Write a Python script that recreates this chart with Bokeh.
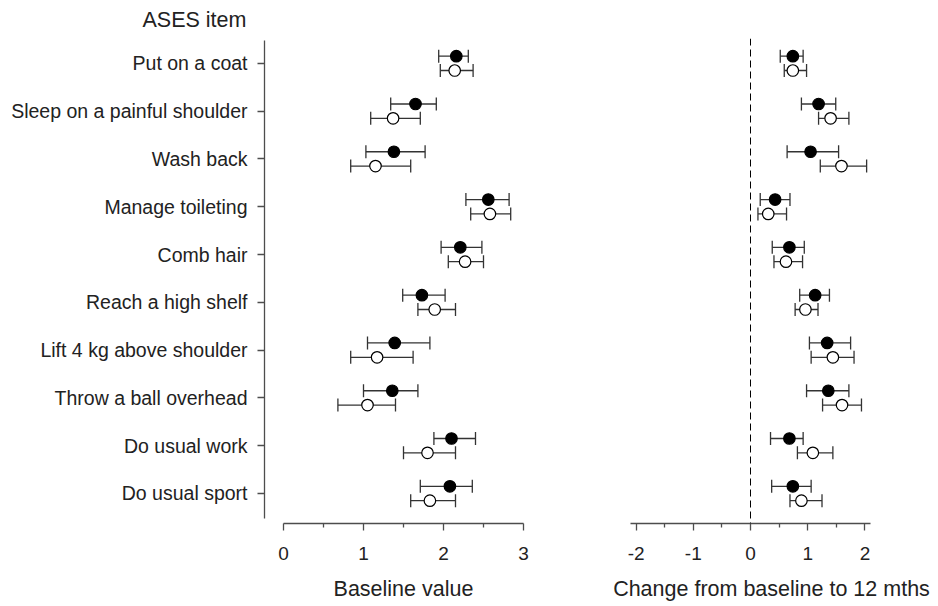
import numpy as np
from bokeh.plotting import figure
from bokeh.layouts import row
from bokeh.models import FixedTicker, Range1d, Span, Title
from bokeh.embed import file_html
from bokeh.resources import INLINE

items = ["Put on a coat", "Sleep on a painful shoulder", "Wash back",
         "Manage toileting", "Comb hair", "Reach a high shelf",
         "Lift 4 kg above shoulder", "Throw a ball overhead",
         "Do usual work", "Do usual sport"]

base_filled = [2.16, 1.65, 1.38, 2.56, 2.21, 1.73, 1.39, 1.36, 2.10, 2.08]
base_filled_lo = [1.94, 1.34, 1.03, 2.28, 1.97, 1.49, 1.05, 1.00, 1.88, 1.71]
base_filled_hi = [2.31, 1.91, 1.77, 2.82, 2.48, 2.02, 1.83, 1.68, 2.40, 2.36]
base_open = [2.14, 1.37, 1.15, 2.58, 2.27, 1.89, 1.17, 1.05, 1.80, 1.83]
base_open_lo = [1.96, 1.09, 0.84, 2.34, 2.06, 1.68, 0.84, 0.68, 1.50, 1.59]
base_open_hi = [2.37, 1.71, 1.59, 2.84, 2.50, 2.15, 1.62, 1.40, 2.15, 2.15]

chg_filled = [0.74, 1.19, 1.05, 0.43, 0.68, 1.13, 1.34, 1.36, 0.68, 0.74]
chg_filled_lo = [0.52, 0.89, 0.64, 0.17, 0.38, 0.86, 1.03, 0.98, 0.35, 0.37]
chg_filled_hi = [0.92, 1.49, 1.54, 0.69, 0.94, 1.38, 1.75, 1.72, 0.92, 1.06]
chg_open = [0.74, 1.40, 1.59, 0.31, 0.62, 0.96, 1.44, 1.60, 1.09, 0.89]
chg_open_lo = [0.59, 1.19, 1.22, 0.13, 0.41, 0.78, 1.06, 1.26, 0.82, 0.69]
chg_open_hi = [0.98, 1.72, 2.03, 0.63, 0.91, 1.18, 1.81, 1.94, 1.44, 1.25]

base_ticks = [0, 1, 2, 3]
base_minor = [0.5, 1.5, 2.5]
chg_ticks = [-2, -1, 0, 1, 2]
chg_tick_labels = ["-2", "-1", "0", "1", "2"]
chg_minor = [-1.5, -0.5, 0.5, 1.5]

n = len(items)
ypos = np.arange(n, 0, -1).astype(float)
dy = 0.15
y_f = ypos + dy
y_o = ypos - dy

FONT = "Liberation Sans"
TXT = "#222222"
AX = "#4d4d4d"
BAR = "#333333"

y_range = Range1d(0.372, 10.52)


def style_axis_x(ax, ticks, minor, bounds):
    ax.ticker = FixedTicker(ticks=ticks, minor_ticks=minor)
    ax.bounds = bounds
    ax.axis_line_color = AX
    ax.axis_line_width = 1.3
    ax.major_tick_line_color = AX
    ax.minor_tick_line_color = AX
    ax.major_tick_line_width = 1.3
    ax.minor_tick_line_width = 1.3
    ax.major_tick_out = 7
    ax.major_tick_in = 0
    ax.minor_tick_out = 4
    ax.minor_tick_in = 0
    ax.major_label_text_font = FONT
    ax.major_label_text_font_size = "19px"
    ax.major_label_text_color = TXT
    ax.major_label_standoff = 16
    ax.axis_label_text_font = FONT
    ax.axis_label_text_font_size = "21.5px"
    ax.axis_label_text_font_style = "normal"
    ax.axis_label_text_color = TXT
    ax.axis_label_standoff = 14


def draw(p, x, lo, hi, y, fill):
    p.segment(x0=lo, y0=y, x1=hi, y1=y, line_color=BAR, line_width=1.3)
    p.scatter(x=lo, y=y, marker="dash", angle=np.pi / 2, size=13,
              line_color=BAR, line_width=1.3)
    p.scatter(x=hi, y=y, marker="dash", angle=np.pi / 2, size=13,
              line_color=BAR, line_width=1.3)
    p.scatter(x=x, y=y, marker="circle", size=11.5, fill_color=fill,
              line_color="black", line_width=1.2)


p1 = figure(width=568, height=604, x_range=Range1d(-0.2375, 3.2375),
            y_range=y_range, output_backend="svg", toolbar_location=None,
            min_border_left=264, min_border_right=26, min_border_top=38,
            min_border_bottom=81)
p1.title = Title(text="ASES item", align="left", offset=-122, standoff=12,
                 vertical_align="middle",
                 text_font=FONT, text_font_size="21.5px",
                 text_font_style="normal", text_color=TXT)
p1.grid.visible = False
p1.outline_line_color = None
style_axis_x(p1.xaxis[0], base_ticks, base_minor, (0, 3))
p1.xaxis.axis_label = "Baseline value"

ya = p1.yaxis[0]
ya.ticker = FixedTicker(ticks=list(ypos), minor_ticks=[])
ya.major_label_overrides = {float(v): lab for v, lab in zip(ypos, items)}
ya.bounds = (0.48, 10.48)
ya.axis_line_color = AX
ya.axis_line_width = 1.3
ya.major_tick_line_color = AX
ya.major_tick_line_width = 1.3
ya.major_tick_out = 7
ya.major_tick_in = 0
ya.minor_tick_out = 0
ya.minor_tick_in = 0
ya.major_label_text_font = FONT
ya.major_label_text_font_size = "19.5px"
ya.major_label_text_color = TXT
ya.major_label_standoff = 10

draw(p1, base_filled, base_filled_lo, base_filled_hi, y_f, "black")
draw(p1, base_open, base_open_lo, base_open_hi, y_o, "white")

p2 = figure(width=364, height=604, x_range=Range1d(-2.098, 2.832),
            y_range=y_range, output_backend="svg", toolbar_location=None,
            y_axis_location=None,
            min_border_left=62, min_border_right=20, min_border_top=38,
            min_border_bottom=81)
p2.grid.visible = False
p2.outline_line_color = None
style_axis_x(p2.xaxis[0], chg_ticks, chg_minor, (-2.098, 2.098))
p2.xaxis[0].major_label_overrides = {t: s for t, s in zip(chg_ticks, chg_tick_labels)}
p2.xaxis.axis_label = "Change from baseline to 12 mths"

p2.add_layout(Span(location=0, dimension="height", line_color="black",
                   line_width=1, line_dash="7 4"))

draw(p2, chg_filled, chg_filled_lo, chg_filled_hi, y_f, "black")
draw(p2, chg_open, chg_open_lo, chg_open_hi, y_o, "white")

layout = row(p1, p2)
open("out.html", "w").write(file_html(layout, INLINE))
